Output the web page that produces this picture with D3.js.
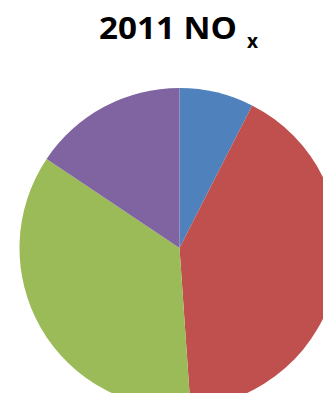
<!DOCTYPE html>
<html>
<head>
<meta charset="utf-8">
<script src="https://cdn.jsdelivr.net/npm/d3@7"></script>
<style>
  html, body { margin: 0; padding: 0; background: #fff; overflow: hidden; }
</style>
</head>
<body>
<div class="canvas"></div>
<script>
const categories = ['A', 'B', 'C', 'D'];
const values = [7.5, 41.4, 35.5, 15.6];
const colors = ['#4F81BD', '#C0504D', '#9BBB59', '#8064A2'];

const width = 323;
const height = 393;
const cx = 179.5, cy = 248, radius = 160;

const data = categories.map((c, i) => ({ name: c, value: values[i] }));
const color = d3.scaleOrdinal(categories, colors);

const svg = d3.select('.canvas')
  .append('svg')
  .attr('width', width)
  .attr('height', height)
  .attr('viewBox', [0, 0, width, height]);

const pie = d3.pie().sort(null).value(d => d.value);
const arc = d3.arc().innerRadius(0).outerRadius(radius);

svg.append('g')
  .attr('transform', `translate(${cx},${cy})`)
  .selectAll('path')
  .data(pie(data))
  .join('path')
  .attr('fill', d => color(d.data.name))
  .attr('d', arc);

// title with subscript
const title = svg.append('text')
  .attr('x', 99)
  .attr('y', 38.5)
  .style('font-family', "'Open Sans', 'Liberation Sans', sans-serif")
  .style('font-weight', 'bold')
  .style('font-size', '30px')
  .attr('fill', '#000');
title.append('tspan').text('2011 NO').attr('textLength', 138).attr('lengthAdjust', 'spacingAndGlyphs');
title.append('tspan').attr('x', 247).attr('y', 47.5).style('font-size', '19px').text('x');
</script>
</body>
</html>
